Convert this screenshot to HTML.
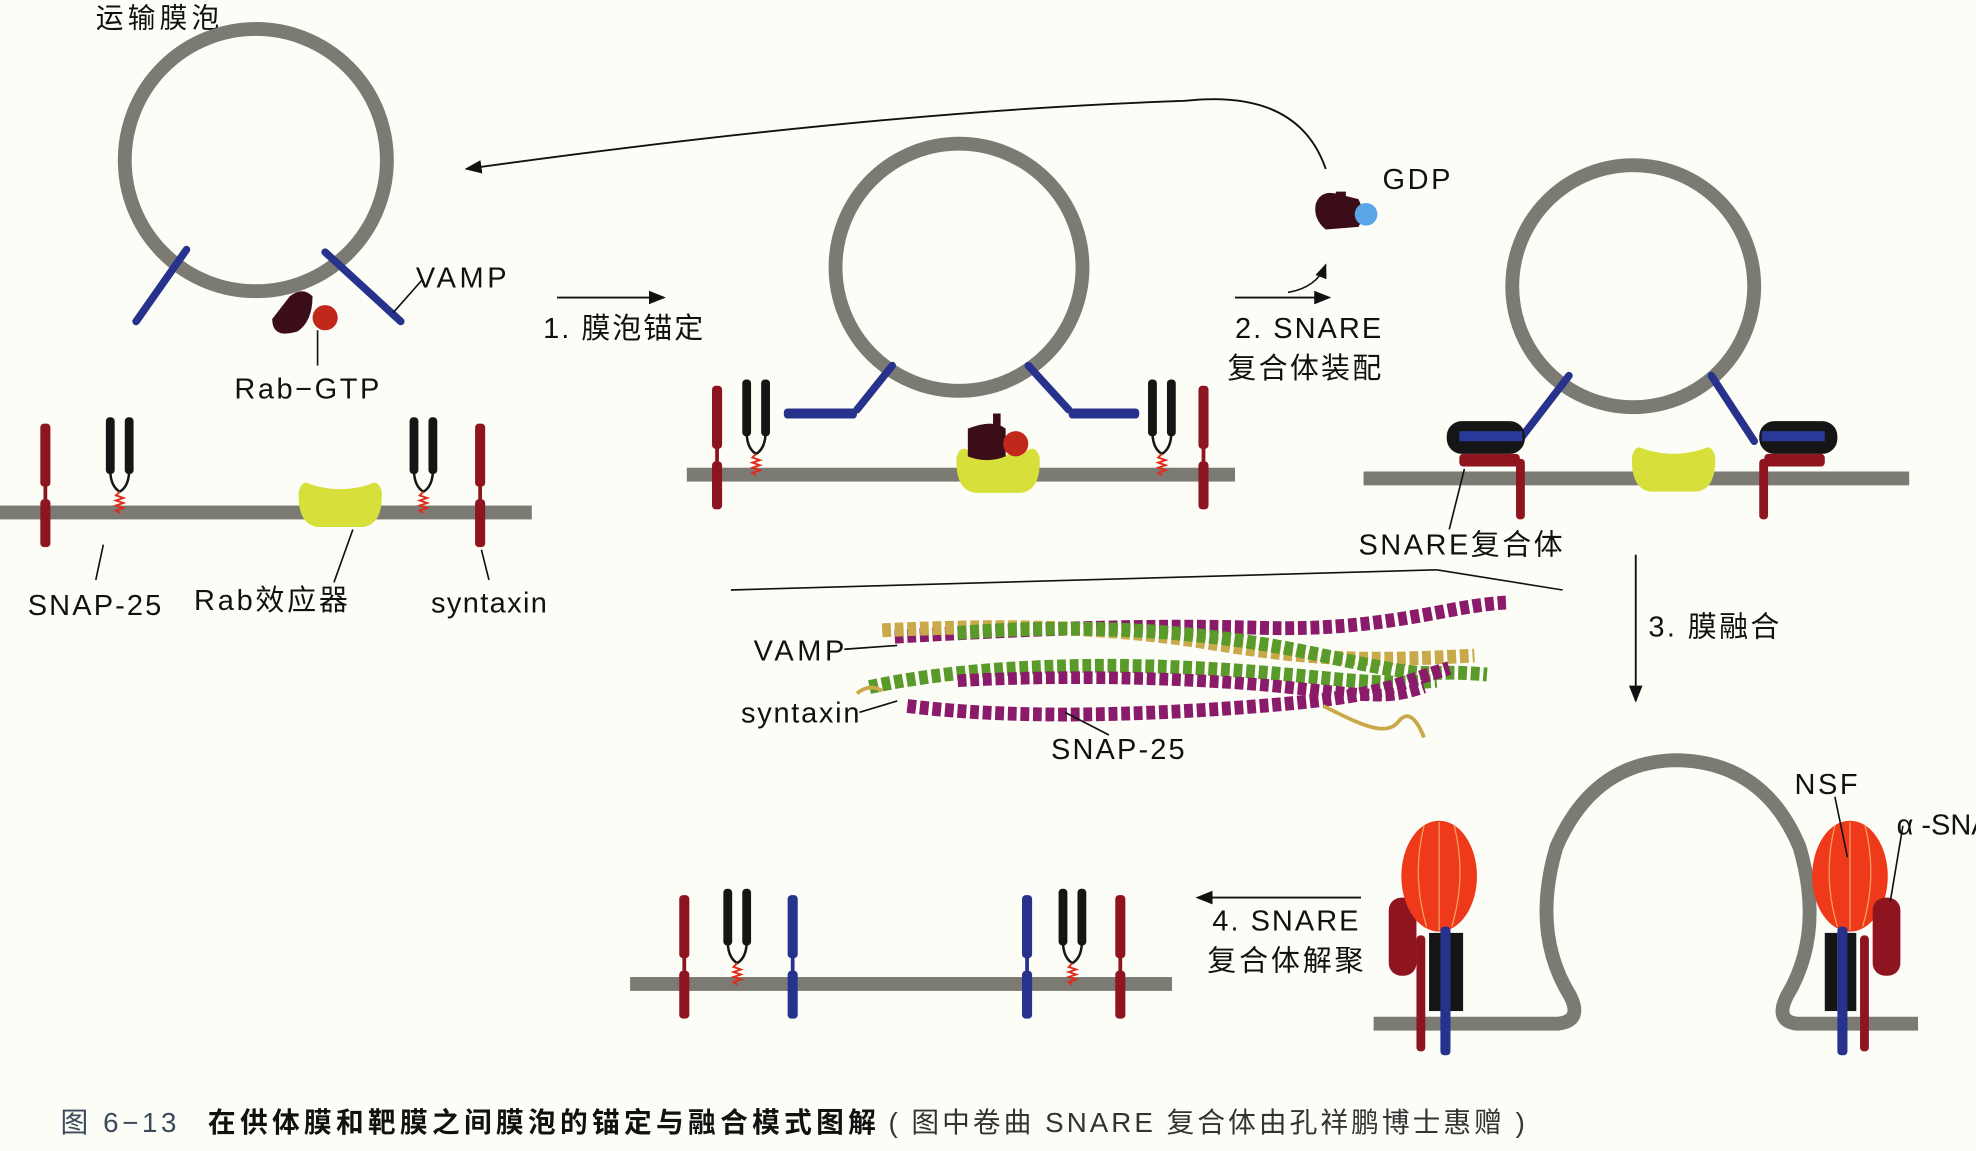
<!DOCTYPE html>
<html><head><meta charset="utf-8">
<style>
html,body{margin:0;padding:0;background:#fdfdf8;}
svg{display:block;}
text{font-family:"Liberation Sans","Noto Sans CJK SC",sans-serif;fill:#111;}
</style></head>
<body>
<svg width="1976" height="1151" viewBox="0 0 1568 913" preserveAspectRatio="none">
<defs>
  <marker id="ah" viewBox="0 0 10 10" refX="9" refY="5" markerWidth="9" markerHeight="9" orient="auto"><path d="M0,1 L10,5 L0,9 Z" fill="#111"/></marker>
  <g id="stx">
    <rect x="-4" y="-70" width="8" height="50" rx="3" fill="#8e1420"/>
    <rect x="-1.5" y="-22" width="3" height="14" fill="#8e1420"/>
    <rect x="-4" y="-10" width="8" height="38" rx="3" fill="#8e1420"/>
  </g>
  <g id="stxb">
    <rect x="-4" y="-70" width="8" height="50" rx="3" fill="#26328c"/>
    <rect x="-1.5" y="-22" width="3" height="14" fill="#26328c"/>
    <rect x="-4" y="-10" width="8" height="38" rx="3" fill="#26328c"/>
  </g>
  <g id="snap">
    <rect x="-11" y="-75" width="7" height="45" rx="3" fill="#151515"/>
    <rect x="4" y="-75" width="7" height="45" rx="3" fill="#151515"/>
    <path d="M-7.5,-32 Q-7,-20 0,-16 Q7,-20 7.5,-32" fill="none" stroke="#151515" stroke-width="2"/>
    <path d="M0,-16 l-3,3 l6,2 l-6,2 l6,2 l-6,2 l6,2 l-6,2 l3,2" fill="none" stroke="#e02a1a" stroke-width="1.5"/>
  </g>
  <g id="rabeff">
    <path d="M-33,-12 Q-30,-22 -24,-18 Q0,-10 24,-18 Q30,-22 33,-12 Q34,14 18,16 L-18,16 Q-34,14 -33,-12 Z" fill="#d7e03a"/>
  </g>
</defs>

<text x="76" y="22" font-size="22" textLength="98">运输膜泡</text>

<g>
  <circle cx="203" cy="127" r="104" fill="none" stroke="#7b7b74" stroke-width="11"/>
  <line x1="148" y1="198" x2="108" y2="255" stroke="#26328c" stroke-width="6" stroke-linecap="round"/>
  <line x1="258" y1="200" x2="318" y2="255" stroke="#26328c" stroke-width="6" stroke-linecap="round"/>
  <path d="M230,235 q10,-8 18,0 q0,20 -12,28 q-20,6 -20,-10 z" fill="#3a0d18"/>
  <circle cx="258" cy="252" r="10" fill="#c0281c"/>
  <line x1="252" y1="262" x2="252" y2="290" stroke="#111" stroke-width="1.3"/>
  <line x1="312" y1="248" x2="335" y2="222" stroke="#111" stroke-width="1.3"/>
  <text x="330" y="228" font-size="23" textLength="72">VAMP</text>
  <text x="186" y="316" font-size="23" textLength="115">Rab−GTP</text>
  <rect x="0" y="401" width="422" height="11" fill="#7b7b74"/>
  <use href="#stx" x="36" y="406"/>
  <use href="#snap" x="95" y="406"/>
  <use href="#snap" x="336" y="406"/>
  <use href="#stx" x="381" y="406"/>
  <use href="#rabeff" x="270" y="402"/>
  <line x1="82" y1="432" x2="76" y2="460" stroke="#111" stroke-width="1.3"/>
  <line x1="280" y1="420" x2="265" y2="462" stroke="#111" stroke-width="1.3"/>
  <line x1="382" y1="436" x2="388" y2="460" stroke="#111" stroke-width="1.3"/>
  <text x="22" y="488" font-size="23" textLength="106">SNAP-25</text>
  <text x="154" y="484" font-size="23" textLength="122">Rab效应器</text>
  <text x="342" y="486" font-size="23" textLength="92">syntaxin</text>
</g>

<line x1="442" y1="236" x2="527" y2="236" stroke="#111" stroke-width="1.5" marker-end="url(#ah)"/>
<text x="431" y="268" font-size="23" textLength="127">1. 膜泡锚定</text>

<path d="M1052,134 Q1030,70 940,80 Q700,88 370,134" fill="none" stroke="#111" stroke-width="1.5" marker-end="url(#ah)"/>

<g>
  <circle cx="761" cy="212" r="98" fill="none" stroke="#7b7b74" stroke-width="11"/>
  <rect x="545" y="371" width="435" height="11" fill="#7b7b74"/>
  <line x1="708" y1="290" x2="680" y2="325" stroke="#26328c" stroke-width="6" stroke-linecap="round"/>
  <rect x="622" y="324" width="58" height="8" rx="3" fill="#26328c"/>
  <line x1="816" y1="290" x2="848" y2="325" stroke="#26328c" stroke-width="6" stroke-linecap="round"/>
  <rect x="848" y="324" width="56" height="8" rx="3" fill="#26328c"/>
  <use href="#stx" x="569" y="376"/>
  <use href="#snap" x="600" y="376"/>
  <use href="#snap" x="922" y="376"/>
  <use href="#stx" x="955" y="376"/>
  <use href="#rabeff" x="792" y="375"/>
  <rect x="788" y="328" width="6" height="22" fill="#3a0d18"/>
  <path d="M768,340 q20,-8 30,0 l0,22 q-15,6 -30,0 z" fill="#3a0d18"/>
  <circle cx="806" cy="352" r="10" fill="#c0281c"/>
</g>

<path d="M1044,162 q4,-12 18,-8 l16,4 q6,12 0,22 l-26,2 q-10,-8 -8,-20 z" fill="#3a0d18"/>
<rect x="1060" y="152" width="8" height="12" fill="#3a0d18"/>
<circle cx="1084" cy="170" r="9" fill="#5aa6e8"/>
<text x="1097" y="150" font-size="23" textLength="54">GDP</text>
<path d="M1022,232 Q1045,228 1052,210" fill="none" stroke="#111" stroke-width="1.3" marker-end="url(#ah)"/>
<line x1="980" y1="236" x2="1055" y2="236" stroke="#111" stroke-width="1.5" marker-end="url(#ah)"/>
<text x="980" y="268" font-size="23" textLength="116">2. SNARE</text>
<text x="974" y="300" font-size="23" textLength="122">复合体装配</text>

<g>
  <circle cx="1296" cy="227" r="96" fill="none" stroke="#7b7b74" stroke-width="11"/>
  <rect x="1082" y="374" width="433" height="11" fill="#7b7b74"/>
  <use href="#rabeff" x="1328" y="374"/>
  <line x1="1245" y1="298" x2="1205" y2="350" stroke="#26328c" stroke-width="6" stroke-linecap="round"/>
  <line x1="1358" y1="298" x2="1392" y2="350" stroke="#26328c" stroke-width="6" stroke-linecap="round"/>
  <rect x="1148" y="334" width="62" height="26" rx="12" fill="#151515"/>
  <rect x="1158" y="342" width="50" height="8" fill="#2a3a9a"/>
  <rect x="1158" y="360" width="48" height="10" rx="3" fill="#8e1420"/>
  <rect x="1203" y="364" width="7" height="48" rx="3" fill="#8e1420"/>
  <rect x="1396" y="334" width="62" height="26" rx="12" fill="#151515"/>
  <rect x="1398" y="342" width="50" height="8" fill="#2a3a9a"/>
  <rect x="1400" y="360" width="48" height="10" rx="3" fill="#8e1420"/>
  <rect x="1396" y="364" width="7" height="48" rx="3" fill="#8e1420"/>
  <line x1="1162" y1="372" x2="1150" y2="420" stroke="#111" stroke-width="1.3"/>
  <text x="1078" y="440" font-size="23" textLength="162">SNARE复合体</text>
</g>

<line x1="580" y1="468" x2="1140" y2="452" stroke="#111" stroke-width="1.3"/>
<line x1="1140" y1="452" x2="1240" y2="468" stroke="#111" stroke-width="1.3"/>

<g fill="none" stroke-linecap="butt">
  <path d="M710,505 C800,500 900,495 1000,498 S1150,480 1195,478" stroke="#8a1a6a" stroke-width="11" stroke-dasharray="7 3"/>
  <path d="M700,500 C800,495 880,497 960,510 S1080,525 1170,520" stroke="#c9a94a" stroke-width="11" stroke-dasharray="7 3"/>
  <path d="M760,502 C850,495 950,498 1050,520 S1120,530 1180,535" stroke="#5a9a2a" stroke-width="11" stroke-dasharray="7 3"/>
  <path d="M690,545 C760,530 850,525 950,530 S1080,545 1140,540" stroke="#5a9a2a" stroke-width="11" stroke-dasharray="7 3"/>
  <path d="M720,560 C800,570 900,568 1000,560 S1100,545 1150,530" stroke="#8a1a6a" stroke-width="11" stroke-dasharray="7 3"/>
  <path d="M760,540 C850,535 950,538 1020,545 S1100,555 1130,545" stroke="#8a1a6a" stroke-width="10" stroke-dasharray="7 3"/>
  <path d="M1050,560 C1080,575 1100,585 1110,572 Q1120,560 1130,585" stroke="#c9a94a" stroke-width="3"/>
  <path d="M680,550 q10,-8 20,-2" stroke="#c9a94a" stroke-width="3"/>
</g>
<line x1="670" y1="515" x2="712" y2="512" stroke="#111" stroke-width="1.3"/>
<line x1="682" y1="565" x2="712" y2="556" stroke="#111" stroke-width="1.3"/>
<line x1="880" y1="583" x2="845" y2="565" stroke="#111" stroke-width="1.3"/>
<text x="598" y="524" font-size="23" textLength="72">VAMP</text>
<text x="588" y="573" font-size="23" textLength="94">syntaxin</text>
<text x="834" y="602" font-size="23" textLength="106">SNAP-25</text>

<line x1="1298" y1="440" x2="1298" y2="556" stroke="#111" stroke-width="1.5" marker-end="url(#ah)"/>
<text x="1308" y="505" font-size="23" textLength="104">3. 膜融合</text>

<g>
  <path d="M1090,812 L1236,812 Q1256,810 1246,790 Q1215,740 1235,672 Q1265,603 1332,603 Q1400,605 1428,672 Q1448,740 1418,790 Q1408,810 1426,812 L1522,812" fill="none" stroke="#7b7b74" stroke-width="11" stroke-linejoin="round"/>
  <rect x="1102" y="712" width="22" height="62" rx="10" fill="#8e1420"/>
  <ellipse cx="1142" cy="695" rx="30" ry="44" fill="#ee3a1a"/>
  <path d="M1130,655 Q1120,695 1132,735 M1154,655 Q1164,695 1152,735 M1142,652 L1142,738" stroke="#f7a060" stroke-width="1" fill="none"/>
  <rect x="1134" y="740" width="10" height="62" fill="#151515"/>
  <rect x="1151" y="740" width="10" height="62" fill="#151515"/>
  <rect x="1124" y="742" width="7" height="92" rx="3" fill="#8e1420"/>
  <rect x="1143" y="735" width="8" height="102" rx="3" fill="#26328c"/>
  <ellipse cx="1468" cy="695" rx="30" ry="44" fill="#ee3a1a"/>
  <path d="M1456,655 Q1446,695 1458,735 M1480,655 Q1490,695 1478,735 M1468,652 L1468,738" stroke="#f7a060" stroke-width="1" fill="none"/>
  <rect x="1486" y="712" width="22" height="62" rx="10" fill="#8e1420"/>
  <rect x="1448" y="740" width="10" height="62" fill="#151515"/>
  <rect x="1463" y="740" width="10" height="62" fill="#151515"/>
  <rect x="1458" y="735" width="8" height="102" rx="3" fill="#26328c"/>
  <rect x="1476" y="742" width="7" height="92" rx="3" fill="#8e1420"/>
  <line x1="1456" y1="632" x2="1466" y2="680" stroke="#111" stroke-width="1.3"/>
  <line x1="1510" y1="655" x2="1500" y2="715" stroke="#111" stroke-width="1.3"/>
  <text x="1424" y="630" font-size="23" textLength="50">NSF</text>
  <text x="1505" y="662" font-size="23">α -SNAP</text>
</g>

<line x1="1080" y1="712" x2="950" y2="712" stroke="#111" stroke-width="1.5" marker-end="url(#ah)"/>
<text x="962" y="738" font-size="23" textLength="116">4. SNARE</text>
<text x="958" y="770" font-size="23" textLength="124">复合体解聚</text>

<g>
  <rect x="500" y="775" width="430" height="11" fill="#7b7b74"/>
  <use href="#stx" x="543" y="780"/>
  <use href="#snap" x="585" y="780"/>
  <use href="#stxb" x="629" y="780"/>
  <use href="#stxb" x="815" y="780"/>
  <use href="#snap" x="851" y="780"/>
  <use href="#stx" x="889" y="780"/>
</g>

<text x="48" y="898" font-size="22" textLength="92" style="fill:#3a4a5a">图 6−13</text>
<text x="165" y="898" font-size="22" font-weight="bold" textLength="530">在供体膜和靶膜之间膜泡的锚定与融合模式图解</text>
<text x="705" y="898" font-size="22" textLength="505" style="fill:#333">( 图中卷曲 SNARE 复合体由孔祥鹏博士惠赠 )</text>
</svg>
</body></html>
